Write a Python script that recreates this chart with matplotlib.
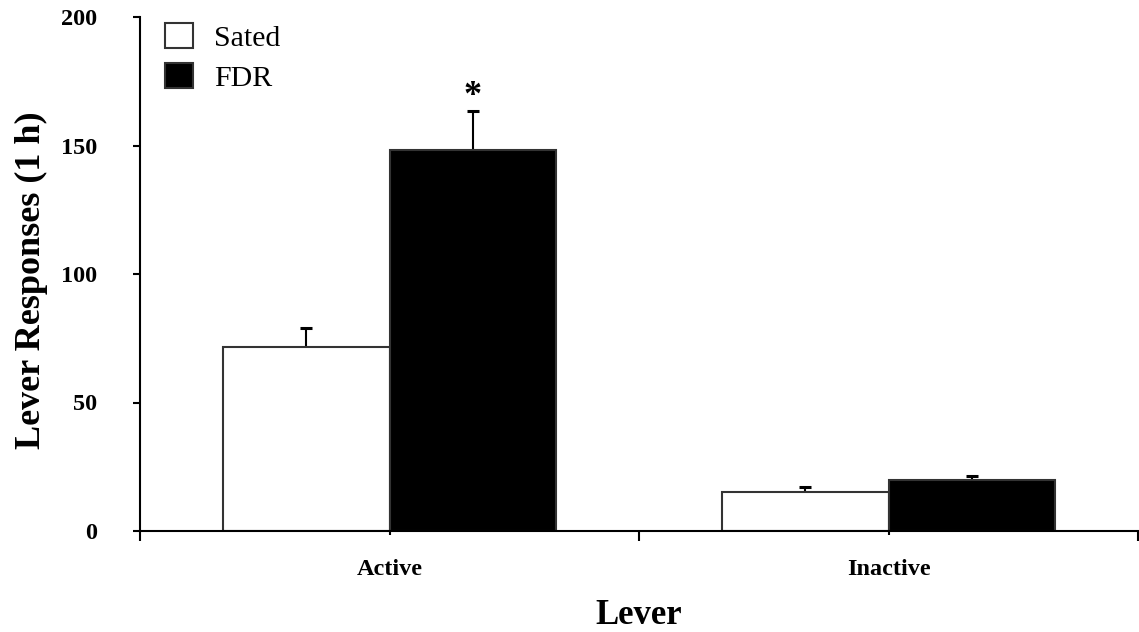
import matplotlib
matplotlib.use('Agg')
import matplotlib.pyplot as plt
from matplotlib.patches import Patch
import numpy as np

# dados
levers = ['Active', 'Inactive']
sated = [71.5, 15.3]
sated_err = [7.6, 1.9]
fdr = [148.2, 19.7]
fdr_err = [15.2, 1.7]

plt.rcParams['font.family'] = 'Liberation Serif'

fig = plt.figure(figsize=(11.39, 6.32), dpi=100)
ax = fig.add_axes([140 / 1139, 101 / 632, 998 / 1139, 514 / 632])

centers = np.arange(len(levers)) + 0.5
w = 1 / 3
edge = '#333333'

# barras + erro so para cima (sem tampa embaixo)
for xs, vals, errs, cor in [(centers - w / 2, sated, sated_err, 'white'),
                            (centers + w / 2, fdr, fdr_err, 'black')]:
    ax.bar(xs, vals, width=w, color=cor, edgecolor=edge, linewidth=1.5, zorder=2)
    tops = np.array(vals) + np.array(errs)
    ax.errorbar(xs, vals, yerr=[[0] * len(vals), errs], fmt='none', ecolor='black',
                elinewidth=1.5, capsize=0, zorder=1)
    ax.plot(xs, tops, ls='none', marker='_', markersize=9, mew=2.2, color='black', zorder=3)

# asterisco sobre a barra FDR ativa
ax.text(centers[0] + w / 2, fdr[0] + fdr_err[0] - 0.6, '*', ha='center', va='bottom',
        fontsize=26, fontweight='bold')

ax.set_xlim(0, 2)
ax.set_ylim(0, 200)
ax.set_yticks([0, 50, 100, 150, 200])
ax.set_xticks([0, 1, 2])
ax.set_xticklabels([])
ax.set_xticks(centers, minor=True)
ax.set_xticklabels(levers, minor=True)

ax.tick_params(axis='y', direction='out', length=5, width=1.5, pad=26, labelsize=17.5)
ax.tick_params(axis='x', which='major', direction='out', length=7, width=1.5)
ax.tick_params(axis='x', which='minor', direction='out', length=3, width=1.5, pad=17.5, labelsize=17.5)
for lab in ax.get_yticklabels() + ax.get_xticklabels(minor=True):
    lab.set_fontweight('bold')

for s in ['top', 'right']:
    ax.spines[s].set_visible(False)
for s in ['left', 'bottom']:
    ax.spines[s].set_linewidth(1.5)

ax.set_ylabel('Lever Responses (1 h)', fontsize=26, fontweight='bold')
ax.yaxis.set_label_coords(-0.092, 0.488)
ax.set_xlabel('Lever', fontsize=25, fontweight='bold', labelpad=13.5)

handles = [Patch(facecolor='white', edgecolor=edge, linewidth=1.5, label='Sated'),
           Patch(facecolor='black', edgecolor=edge, linewidth=1.5, label='FDR')]
ax.legend(handles=handles, loc='upper left', bbox_to_anchor=(0.013, 1.012), frameon=False,
          fontsize=21.5, handlelength=0.93, handleheight=0.93, handletextpad=0.72,
          labelspacing=0.38, borderaxespad=0)

fig.savefig('out.png', dpi=100)
